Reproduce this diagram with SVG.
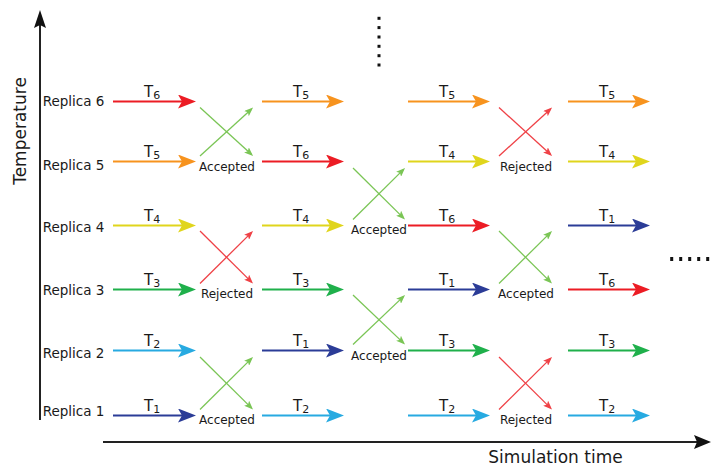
<svg xmlns="http://www.w3.org/2000/svg" width="711" height="468" viewBox="0 0 711 468">
<style>
text{font-family:"DejaVu Sans","Liberation Sans",sans-serif;fill:#1a1a1a}
.rep{font-size:13.5px}
.t{font-size:15px}
.sub{font-size:11px}
.lab{font-size:12px;text-anchor:middle}
.ax{font-size:17px}
.a{stroke-width:2.2;fill:none}
.x{stroke-width:1.3;fill:none}
.red{stroke:#ec1c24}.org{stroke:#f7931e}.yel{stroke:#e0d51c}.grn{stroke:#1fb04b}.lbl{stroke:#27aae1}.dbl{stroke:#2b3c97}
.cg{stroke:#7ac555}.cr{stroke:#ef4146}
.red{marker-end:url(#h-red)}.org{marker-end:url(#h-org)}.yel{marker-end:url(#h-yel)}.grn{marker-end:url(#h-grn)}.lbl{marker-end:url(#h-lbl)}.dbl{marker-end:url(#h-dbl)}
.cg{marker-end:url(#h-cg)}.cr{marker-end:url(#h-cr)}
.dot{fill:#111}
</style>
<defs>
<marker id="h-red" viewBox="0 0 18 14" refX="14" refY="7" markerWidth="18" markerHeight="14" markerUnits="userSpaceOnUse" orient="auto"><path d="M0,0 L18,7 L0,14 L4,7 Z" fill="#ec1c24"/></marker>
<marker id="h-org" viewBox="0 0 18 14" refX="14" refY="7" markerWidth="18" markerHeight="14" markerUnits="userSpaceOnUse" orient="auto"><path d="M0,0 L18,7 L0,14 L4,7 Z" fill="#f7931e"/></marker>
<marker id="h-yel" viewBox="0 0 18 14" refX="14" refY="7" markerWidth="18" markerHeight="14" markerUnits="userSpaceOnUse" orient="auto"><path d="M0,0 L18,7 L0,14 L4,7 Z" fill="#e0d51c"/></marker>
<marker id="h-grn" viewBox="0 0 18 14" refX="14" refY="7" markerWidth="18" markerHeight="14" markerUnits="userSpaceOnUse" orient="auto"><path d="M0,0 L18,7 L0,14 L4,7 Z" fill="#1fb04b"/></marker>
<marker id="h-lbl" viewBox="0 0 18 14" refX="14" refY="7" markerWidth="18" markerHeight="14" markerUnits="userSpaceOnUse" orient="auto"><path d="M0,0 L18,7 L0,14 L4,7 Z" fill="#27aae1"/></marker>
<marker id="h-dbl" viewBox="0 0 18 14" refX="14" refY="7" markerWidth="18" markerHeight="14" markerUnits="userSpaceOnUse" orient="auto"><path d="M0,0 L18,7 L0,14 L4,7 Z" fill="#2b3c97"/></marker>
<marker id="h-cg" viewBox="0 0 9 7" refX="7" refY="3.5" markerWidth="9" markerHeight="7" markerUnits="userSpaceOnUse" orient="auto"><path d="M0,0 L9,3.5 L0,7 L2,3.5 Z" fill="#7ac555"/></marker>
<marker id="h-cr" viewBox="0 0 9 7" refX="7" refY="3.5" markerWidth="9" markerHeight="7" markerUnits="userSpaceOnUse" orient="auto"><path d="M0,0 L9,3.5 L0,7 L2,3.5 Z" fill="#ef4146"/></marker>
</defs>

<g id="axes">
  <line x1="40" y1="420" x2="40" y2="24" stroke="#222" stroke-width="2"/>
  <path d="M40,10 L46,28 L40,25 L34,28 Z" fill="#111"/>
  <line x1="103" y1="442" x2="698" y2="442" stroke="#222" stroke-width="2.2"/>
  <path d="M711,442 L694,435 L697,442 L694,449 Z" fill="#111"/>
  <text class="ax" transform="translate(25.5,131) rotate(-90)" text-anchor="middle">Temperature</text>
  <text class="ax" x="555.5" y="463" text-anchor="middle">Simulation time</text>
</g>

<g id="replicas">
  <text id="replica6" class="rep" x="42.7" y="106">Replica 6</text>
  <text id="replica5" class="rep" x="42.7" y="170">Replica 5</text>
  <text id="replica4" class="rep" x="42.7" y="232">Replica 4</text>
  <text id="replica3" class="rep" x="42.7" y="294.5">Replica 3</text>
  <text id="replica2" class="rep" x="42.7" y="357.5">Replica 2</text>
  <text id="replica1" class="rep" x="42.7" y="416">Replica 1</text>
</g>

<g id="ellipses">
  <rect class="dot" x="377.5" y="16.8" width="3" height="3"/>
  <rect class="dot" x="377.5" y="26.1" width="3" height="3"/>
  <rect class="dot" x="377.5" y="35.5" width="3" height="3"/>
  <rect class="dot" x="377.5" y="44.8" width="3" height="3"/>
  <rect class="dot" x="377.5" y="54.2" width="3" height="3"/>
  <rect class="dot" x="377.5" y="63.5" width="3" height="3"/>
  <rect class="dot" x="670.2" y="257" width="3" height="4"/>
  <rect class="dot" x="679.2" y="257" width="3" height="4"/>
  <rect class="dot" x="688.2" y="257" width="3" height="4"/>
  <rect class="dot" x="697.2" y="257" width="3" height="4"/>
  <rect class="dot" x="706.2" y="257" width="3" height="4"/>
</g>

<g id="connectors">
  <!-- column 1 -->
  <line class="a red" x1="113" y1="101.5" x2="192" y2="101.5"/>
  <line class="a org" x1="113" y1="161.5" x2="192" y2="161.5"/>
  <line class="a yel" x1="113" y1="225.5" x2="192" y2="225.5"/>
  <line class="a grn" x1="113" y1="289.5" x2="192" y2="289.5"/>
  <line class="a lbl" x1="113" y1="350.5" x2="192" y2="350.5"/>
  <line class="a dbl" x1="113" y1="415.5" x2="192" y2="415.5"/>
  <!-- column 2 -->
  <line class="a org" x1="262" y1="101.5" x2="340" y2="101.5"/>
  <line class="a red" x1="262" y1="161.5" x2="340" y2="161.5"/>
  <line class="a yel" x1="262" y1="225.5" x2="340" y2="225.5"/>
  <line class="a grn" x1="262" y1="289.5" x2="340" y2="289.5"/>
  <line class="a dbl" x1="262" y1="350.5" x2="340" y2="350.5"/>
  <line class="a lbl" x1="262" y1="415.5" x2="340" y2="415.5"/>
  <!-- column 3 -->
  <line class="a org" x1="408" y1="101.5" x2="486" y2="101.5"/>
  <line class="a yel" x1="408" y1="161.5" x2="486" y2="161.5"/>
  <line class="a red" x1="408" y1="225.5" x2="486" y2="225.5"/>
  <line class="a dbl" x1="408" y1="289.5" x2="486" y2="289.5"/>
  <line class="a grn" x1="408" y1="350.5" x2="486" y2="350.5"/>
  <line class="a lbl" x1="408" y1="415.5" x2="486" y2="415.5"/>
  <!-- column 4 -->
  <line class="a org" x1="568" y1="101.5" x2="646" y2="101.5"/>
  <line class="a yel" x1="568" y1="161.5" x2="646" y2="161.5"/>
  <line class="a dbl" x1="568" y1="225.5" x2="646" y2="225.5"/>
  <line class="a red" x1="568" y1="289.5" x2="646" y2="289.5"/>
  <line class="a grn" x1="568" y1="350.5" x2="646" y2="350.5"/>
  <line class="a lbl" x1="568" y1="415.5" x2="646" y2="415.5"/>

  <!-- exchanges -->
  <line class="x cg" x1="200" y1="107.5" x2="251.6" y2="154.6"/>
  <line class="x cg" x1="200" y1="156" x2="251.6" y2="108.9"/>
  <line class="x cr" x1="200" y1="231" x2="251.6" y2="282.1"/>
  <line class="x cr" x1="200" y1="283.5" x2="251.6" y2="232.4"/>
  <line class="x cg" x1="200" y1="357" x2="251.6" y2="408.1"/>
  <line class="x cg" x1="200" y1="409.5" x2="251.6" y2="358.4"/>
  <line class="x cg" x1="353" y1="168" x2="403.6" y2="218.1"/>
  <line class="x cg" x1="353" y1="219.5" x2="403.6" y2="169.4"/>
  <line class="x cg" x1="353" y1="295" x2="403.6" y2="343.1"/>
  <line class="x cg" x1="353" y1="344.5" x2="403.6" y2="296.4"/>
  <line class="x cr" x1="499" y1="107.5" x2="550.6" y2="154.6"/>
  <line class="x cr" x1="499" y1="156" x2="550.6" y2="108.9"/>
  <line class="x cg" x1="499" y1="231" x2="550.6" y2="282.1"/>
  <line class="x cg" x1="499" y1="283.5" x2="550.6" y2="232.4"/>
  <line class="x cr" x1="499" y1="357" x2="550.6" y2="408.1"/>
  <line class="x cr" x1="499" y1="409.5" x2="550.6" y2="358.4"/>
</g>

<g id="temperature-labels">
  <text class="t" x="144" y="97">T<tspan class="sub" dy="2">6</tspan></text>
  <text class="t" x="144" y="157">T<tspan class="sub" dy="2">5</tspan></text>
  <text class="t" x="144" y="221">T<tspan class="sub" dy="2">4</tspan></text>
  <text class="t" x="144" y="285">T<tspan class="sub" dy="2">3</tspan></text>
  <text class="t" x="144" y="346">T<tspan class="sub" dy="2">2</tspan></text>
  <text class="t" x="144" y="411">T<tspan class="sub" dy="2">1</tspan></text>

  <text class="t" x="293" y="97">T<tspan class="sub" dy="2">5</tspan></text>
  <text class="t" x="293" y="157">T<tspan class="sub" dy="2">6</tspan></text>
  <text class="t" x="293" y="221">T<tspan class="sub" dy="2">4</tspan></text>
  <text class="t" x="293" y="285">T<tspan class="sub" dy="2">3</tspan></text>
  <text class="t" x="293" y="346">T<tspan class="sub" dy="2">1</tspan></text>
  <text class="t" x="293" y="411">T<tspan class="sub" dy="2">2</tspan></text>

  <text class="t" x="439" y="97">T<tspan class="sub" dy="2">5</tspan></text>
  <text class="t" x="439" y="157">T<tspan class="sub" dy="2">4</tspan></text>
  <text class="t" x="439" y="221">T<tspan class="sub" dy="2">6</tspan></text>
  <text class="t" x="439" y="285">T<tspan class="sub" dy="2">1</tspan></text>
  <text class="t" x="439" y="346">T<tspan class="sub" dy="2">3</tspan></text>
  <text class="t" x="439" y="411">T<tspan class="sub" dy="2">2</tspan></text>

  <text class="t" x="599" y="97">T<tspan class="sub" dy="2">5</tspan></text>
  <text class="t" x="599" y="157">T<tspan class="sub" dy="2">4</tspan></text>
  <text class="t" x="599" y="221">T<tspan class="sub" dy="2">1</tspan></text>
  <text class="t" x="599" y="285">T<tspan class="sub" dy="2">6</tspan></text>
  <text class="t" x="599" y="346">T<tspan class="sub" dy="2">3</tspan></text>
  <text class="t" x="599" y="411">T<tspan class="sub" dy="2">2</tspan></text>
</g>

<g id="exchange-labels">
  <text class="lab" x="227" y="170.5">Accepted</text>
  <text class="lab" x="227" y="297.5">Rejected</text>
  <text class="lab" x="227" y="423.5">Accepted</text>
  <text class="lab" x="379" y="233.5">Accepted</text>
  <text class="lab" x="379" y="359.5">Accepted</text>
  <text class="lab" x="526" y="170.5">Rejected</text>
  <text class="lab" x="526" y="297.5">Accepted</text>
  <text class="lab" x="526" y="423.5">Rejected</text>
</g>
</svg>
